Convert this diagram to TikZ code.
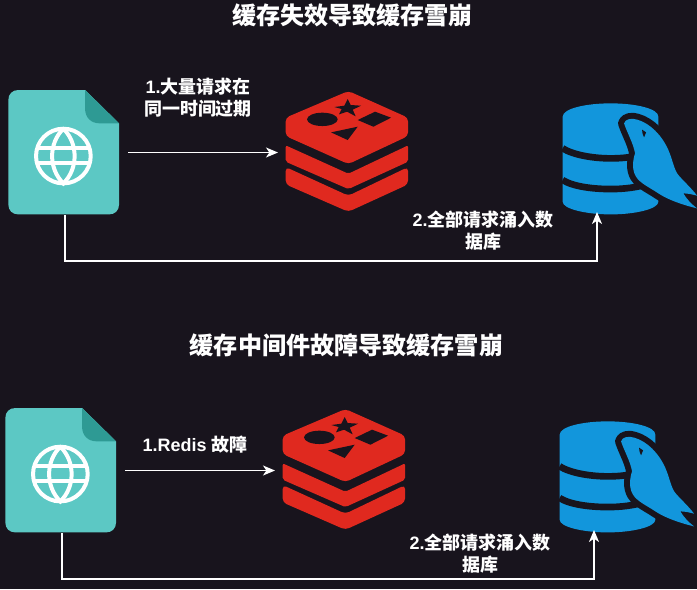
\documentclass[tikz,border=0pt]{standalone}
\usepackage{fontspec}
\setmainfont{Liberation Sans}
\newfontfamily\cjk{Noto Sans CJK SC}
\usetikzlibrary{arrows.meta}
\definecolor{pagebg}{HTML}{18141D}
\definecolor{webteal}{HTML}{5CC8C4}
\definecolor{webfold}{HTML}{2E9A94}
\definecolor{redisred}{HTML}{E0291F}
\definecolor{dbblue}{HTML}{1296DC}
\def\unitpx{0.0264cm}
\tikzset{
  zoomed/.style={x=0.0088cm, y=-0.0088cm},
  iconbox/.style={inner sep=0, outer sep=0, minimum width=#1*\unitpx, minimum height=122*\unitpx},
  flow/.style={white, line width=1.05pt, -{Stealth[length=9pt, width=7.5pt, inset=2.5pt]}},
  heading/.style={text=white, font=\cjk\bfseries\fontsize{18.1}{22}\selectfont},
  caption/.style={text=white, align=center, font=\bfseries\fontsize{13.5}{16.5}\selectfont},
}
\begin{document}
\begin{tikzpicture}[x=0.0264cm, y=-0.0264cm]
\fill[pagebg] (0,0) rectangle (697,589);
\useasboundingbox (0,0) rectangle (697,589);

\foreach \p/\dx/\dy in {1/0/0, 2/-3/318} {
\begin{scope}[shift={(\dx,\dy)}]
\node[iconbox=114, minimum height=125*\unitpx] (web\p) at (65,152.5) {};
\node[iconbox=122] (redis\p) at (347,150.5) {};
\node[iconbox=70] (db\p) at (597,153) {};

% web page
\begin{scope}[shift={(0,80)}, zoomed]
\fill[webteal] (25,60) .. controls (25,42) and (37,30) .. (55,30) -- (255,30) -- (357,130) -- (357,373)
  .. controls (357,391) and (345,403) .. (327,403) -- (55,403) .. controls (37,403) and (25,391) .. (25,373) -- cycle;
\fill[webfold] (255,30) -- (357,130) -- (300,130) .. controls (272,130) and (255,112) .. (255,85) -- cycle;
\draw[white, line width=3pt] (190,228) circle[radius=82];
\draw[white, line width=3pt] (190,146) .. controls (145,190) and (145,266) .. (190,310)
  .. controls (235,266) and (235,190) .. (190,146);
\draw[white, line width=3pt] (111,205) -- (269,205);
\draw[white, line width=3pt] (111,250) -- (269,250);
\end{scope}

% redis
\begin{scope}[shift={(275,85)}, zoomed]
\fill[redisred, rounded corners=3pt] (32,98) -- (220,18) -- (399,98) -- (399,153) -- (220,237) -- (32,153) -- cycle;
\fill[redisred, rounded corners=1.5pt] (32,181) -- (220,266) -- (399,181) -- (399,230) -- (220,312) -- (32,230) -- cycle;
\fill[redisred, rounded corners=3pt] (32,246) -- (220,332) -- (399,246) -- (399,298) -- (220,380) -- (32,298) -- cycle;
\fill[pagebg] (142,103) ellipse[x radius=46, y radius=20];
\fill[pagebg] (218,42) -- (227,60) -- (258,62) -- (233,74) -- (242,94) -- (216,80) -- (192,88) -- (200,72) -- (178,66) -- (208,62) -- cycle;
\fill[pagebg] (248,105) -- (300,80) -- (348,98) -- (295,125) -- cycle;
\fill[pagebg] (168,142) -- (248,125) -- (218,165) -- cycle;
\end{scope}

% mysql
\begin{scope}[shift={(550,95)}, zoomed]
\fill[dbblue] (38,65) .. controls (38,40) and (110,25) .. (182,25) .. controls (254,25) and (325,40) .. (325,65)
  -- (325,320) .. controls (325,342) and (254,358) .. (182,358) .. controls (110,358) and (38,342) .. (38,320) -- cycle;
\draw[pagebg, line width=5pt] (38,160) .. controls (70,180) and (130,190) .. (182,190) .. controls (210,190) and (235,188) .. (260,182);
\draw[pagebg, line width=5pt] (38,255) .. controls (70,275) and (130,282) .. (182,282) .. controls (220,282) and (260,278) .. (300,265);
\def\dolphin{(222,85) .. controls (225,72) and (245,68) .. (262,74)
  .. controls (300,85) and (335,120) .. (355,165) .. controls (368,195) and (372,225) .. (385,240)
  .. controls (400,258) and (425,280) .. (441,302) .. controls (428,298) and (412,295) .. (400,295)
  .. controls (408,310) and (425,328) .. (441,340) .. controls (400,330) and (355,315) .. (325,295)
  .. controls (300,278) and (270,265) .. (258,245) .. controls (245,225) and (248,195) .. (255,175)
  .. controls (250,145) and (232,115) .. (222,85) -- cycle}
\draw[pagebg, line width=9pt, line join=round] \dolphin;
\fill[dbblue] \dolphin;
\fill[pagebg] (276,104) -- (288,112) -- (282,127) .. controls (278,120) and (276,112) .. (276,104) -- cycle;
\end{scope}

\draw[flow, shorten <=6*\unitpx, shorten >=8*\unitpx] (web\p.east) -- (web\p.east -| redis\p.west);
\draw[flow, shorten >=-2*\unitpx] (web\p.south) -- ++(0,46) -| (db\p.south);
\end{scope}
}

\node[heading] (title1) at (352.5,15) {缓存失效导致缓存雪崩};
\node[heading] (title2) at (346.5,345) {缓存中间件故障导致缓存雪崩};

\node[caption] (req1) at (198,98) {1.{\cjk 大量请求在}\\{\cjk 同一时间过期}};
\node[caption] (req2) at (195,445) {1.Redis {\cjk 故障}};
\node[caption] (flood1) at (483,231) {2.{\cjk 全部请求涌入数}\\{\cjk 据库}};
\node[caption] (flood2) at (480,554) {2.{\cjk 全部请求涌入数}\\{\cjk 据库}};
\end{tikzpicture}
\end{document}
